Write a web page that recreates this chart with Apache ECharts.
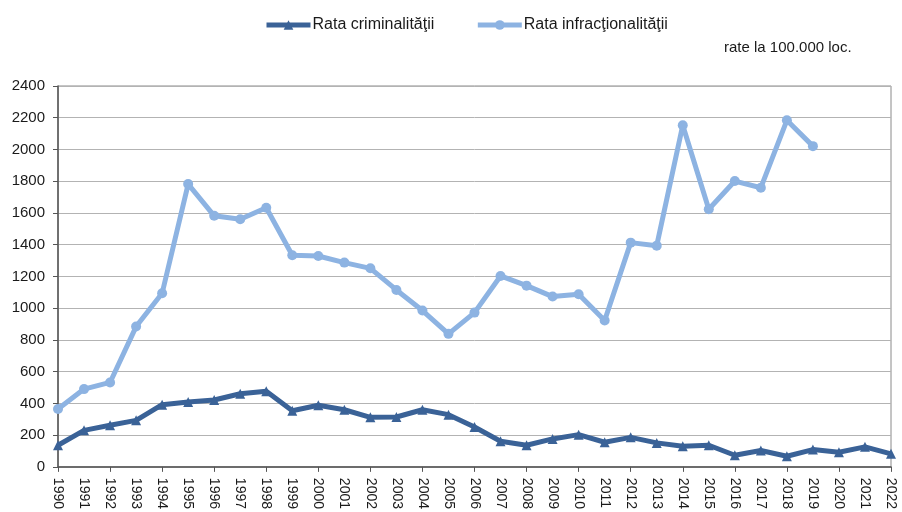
<!DOCTYPE html>
<html>
<head>
<meta charset="utf-8">
<script src="https://cdn.jsdelivr.net/npm/echarts@6/dist/echarts.min.js"></script>
<style>
  html, body { margin: 0; padding: 0; background: #fff; }
  #chart { width: 902px; height: 512px; }
</style>
</head>
<body>
<div id="chart"></div>
<script>
// Years on the category axis
const years = [
  '1990','1991','1992','1993','1994','1995','1996','1997','1998','1999',
  '2000','2001','2002','2003','2004','2005','2006','2007','2008','2009',
  '2010','2011','2012','2013','2014','2015','2016','2017','2018','2019',
  '2020','2021','2022'
];

// Rates per 100,000 inhabitants
const rataCriminalitatii = [
  136, 230, 262, 293, 392, 409, 421, 461, 476, 354,
  388, 360, 312, 314, 360, 329, 251, 161, 136, 176,
  203, 155, 186, 151, 130, 136, 73, 103, 67, 109,
  92, 126, 82
];

const rataInfractionalitatii = [
  365, 490, 532, 884, 1094, 1782, 1582, 1560, 1633, 1333,
  1329, 1287, 1251, 1115, 985, 838, 972, 1203, 1142, 1073,
  1088, 922, 1413, 1394, 2153, 1623, 1801, 1759, 2184, 2021
];

const seriesNames = ['Rata criminalităţii', 'Rata infracţionalităţii'];
const unitNote = 'rate la 100.000 loc.';

const FONT = '"Liberation Sans", Arial, sans-serif';
const chart = echarts.init(document.getElementById('chart'), null, { renderer: 'canvas' });

chart.setOption({
  animation: false,
  backgroundColor: '#ffffff',
  textStyle: { fontFamily: FONT },
  legend: {
    left: 259,
    top: 12,
    itemWidth: 44,
    itemHeight: 12,
    itemGap: 41,
    lineStyle: { width: 5 },
    textStyle: { fontFamily: FONT, fontSize: 16, color: '#1a1a1a', padding: [0, 0, 0, -3] },
    data: seriesNames
  },
  graphic: [{
    type: 'text',
    left: 724,
    top: 40,
    style: { text: unitNote, font: '15px ' + FONT, fill: '#1a1a1a' }
  }],
  grid: {
    left: 58,
    right: 11,
    top: 86,
    bottom: 45,
    show: true,
    borderColor: '#8a8a8a',
    borderWidth: 1,
    containLabel: false
  },
  xAxis: {
    type: 'category',
    data: years,
    boundaryGap: false,
    axisLine: { lineStyle: { color: '#555', width: 1.5 } },
    axisTick: { show: true, interval: 1, length: 5, lineStyle: { color: '#555' } },
    axisLabel: {
      interval: 0,
      rotate: -90,
      margin: 11,
      fontSize: 14,
      color: '#1a1a1a',
      fontFamily: FONT
    },
    splitLine: { show: false }
  },
  yAxis: {
    type: 'value',
    min: 0,
    max: 2400,
    interval: 200,
    axisLine: { show: true, lineStyle: { color: '#555', width: 1.5 } },
    axisTick: { show: true, length: 5, lineStyle: { color: '#555' } },
    axisLabel: {
      fontSize: 15,
      color: '#1a1a1a',
      margin: 13,
      fontFamily: FONT,
      formatter: (v) => String(v)
    },
    splitLine: { lineStyle: { color: '#b3b3b3', width: 1 } }
  },
  series: [
    {
      name: seriesNames[0],
      type: 'line',
      data: rataCriminalitatii,
      symbol: 'triangle',
      symbolSize: 10,
      z: 3,
      lineStyle: { color: '#3a6297', width: 5 },
      itemStyle: { color: '#3a6297' }
    },
    {
      name: seriesNames[1],
      type: 'line',
      data: rataInfractionalitatii,
      symbol: 'circle',
      symbolSize: 10,
      z: 2,
      lineStyle: { color: '#8db3e2', width: 5 },
      itemStyle: { color: '#8db3e2' }
    }
  ]
});
</script>
</body>
</html>
